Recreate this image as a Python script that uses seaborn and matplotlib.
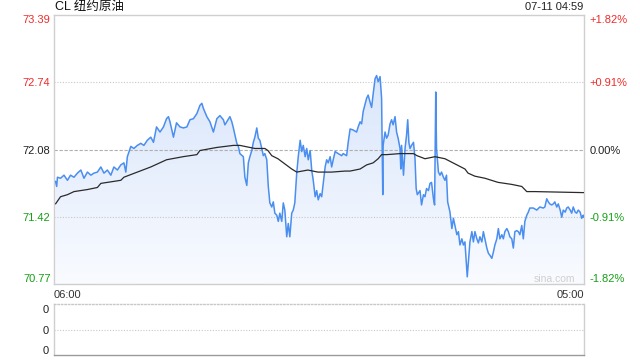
import numpy as np
import pandas as pd
import matplotlib
matplotlib.use("Agg")
import matplotlib.pyplot as plt
from matplotlib.colors import LinearSegmentedColormap
from matplotlib.patches import Polygon
import seaborn as sns

# ---------------- data ----------------
title = "CL 纽约原油"
stamp = "07-11 04:59"
prev_close = 72.08
y_ticks = [73.39, 72.74, 72.08, 71.42, 70.77]
y_tick_labels = ["73.39", "72.74", "72.08", "71.42", "70.77"]
pct_labels = ["+1.82%", "+0.91%", "0.00%", "-0.91%", "-1.82%"]
x_tick_minutes = [0, 1380]
x_tick_labels = ["06:00", "05:00"]
vol_labels = ["0", "0", "0"]

# minutes since 06:00
minutes = [4, 7, 9, 17, 26, 35, 43, 52, 61, 70, 78, 87, 96, 104, 113, 122, 130, 139, 148, 156, 165, 174, 182, 187, 191, 200, 208, 217, 226, 234, 243, 252,
           259, 267, 276, 285, 293, 298, 302, 311, 319, 328, 337, 346, 354, 363, 372, 380, 385, 389, 398, 406, 415, 424, 432, 441, 445, 450, 458, 463, 467, 476, 480, 484, 493, 497, 502, 506, 510,
           515, 519, 523, 528, 532, 536, 541, 545, 549, 554, 558, 562, 567, 571, 575, 580, 584, 588, 593, 597, 601, 606, 610, 614, 619, 623, 627, 632, 636, 641, 645, 649, 654, 658, 662, 667, 671, 675, 680, 684, 688, 693, 697, 701, 706, 710, 714, 719, 723, 727, 732, 740, 749,
           753, 762, 766, 771, 779, 788, 792, 797, 801, 805, 814, 818, 823, 827, 831, 836, 840, 844, 849, 853, 856, 857, 862, 866, 870, 875, 879, 883, 888, 892, 896, 901, 903, 905, 910, 914, 918, 921, 924, 927, 931, 936, 940, 943, 946, 953, 957, 962, 966, 970, 975, 979, 983, 988, 991, 994, 996, 1001, 1005,
           1009, 1014, 1018, 1022, 1025, 1031, 1036, 1040, 1044, 1049, 1053, 1057, 1062, 1066, 1070, 1075, 1076, 1079, 1083, 1088, 1092, 1096, 1101, 1105, 1109, 1114, 1118, 1122, 1127, 1131, 1135, 1140, 1144, 1148, 1153, 1157, 1161, 1166, 1170, 1174, 1179, 1183, 1187, 1192, 1196, 1200, 1205, 1209, 1213, 1218, 1222, 1226, 1231, 1235, 1239,
           1248, 1257, 1265, 1274, 1278, 1283, 1287, 1291, 1296, 1300, 1304, 1309, 1313, 1318, 1322, 1326, 1331, 1335, 1339, 1344, 1348, 1352, 1357, 1361, 1365, 1370, 1374, 1378, 1379]

prices = [71.77, 71.72, 71.81, 71.80, 71.83, 71.78, 71.83, 71.81, 71.85, 71.88, 71.80, 71.86, 71.83, 71.85, 71.86, 71.91, 71.85, 71.88, 71.83, 71.91, 71.88, 71.93, 71.95, 71.86, 72.01, 72.11, 72.09, 72.12, 72.14, 72.12, 72.17, 72.20,
          72.15, 72.30, 72.25, 72.30, 72.38, 72.40, 72.35, 72.20, 72.34, 72.30, 72.29, 72.30, 72.37, 72.38, 72.43, 72.51, 72.53, 72.48, 72.40, 72.35, 72.25, 72.38, 72.41, 72.37, 72.32, 72.35, 72.40, 72.35, 72.29, 72.14, 72.11, 72.04, 72.01, 71.81, 71.73, 71.95, 72.01,
          72.07, 72.15, 72.20, 72.29, 72.19, 72.17, 72.09, 72.02, 72.04, 71.98, 71.72, 71.56, 71.52, 71.57, 71.46, 71.44, 71.38, 71.46, 71.38, 71.56, 71.49, 71.23, 71.36, 71.23, 71.46, 71.49, 71.56, 71.85, 72.01, 72.17, 72.06, 72.12, 72.01, 72.09, 71.98, 72.07, 71.88, 71.78, 71.62, 71.68, 71.59, 71.65, 71.62, 71.75, 71.91, 71.98, 71.95, 72.01, 71.91, 71.98, 72.06, 72.04, 72.02,
          72.04, 72.02, 72.15, 72.28, 72.27, 72.25, 72.30, 72.35, 72.33, 72.45, 72.58, 72.61, 72.54, 72.49, 72.62, 72.77, 72.80, 72.74, 72.79, 72.58, 71.64, 72.12, 72.25, 72.19, 72.22, 72.33, 72.37, 72.32, 72.40, 72.25, 72.19, 72.09, 71.89, 72.12, 71.83, 72.09, 72.22, 72.37, 72.15, 72.09, 72.12, 72.15, 71.99, 71.70, 71.64, 71.68, 71.54, 71.64, 71.62, 71.70, 71.68, 71.75, 71.76, 71.60, 71.54, 72.64, 72.09, 71.86, 71.83,
          71.86, 71.81, 71.78, 71.83, 71.57, 71.47, 71.31, 71.41, 71.34, 71.25, 71.28, 71.15, 71.21, 71.15, 71.18, 70.89, 70.84, 70.99, 71.18, 71.28, 71.18, 71.28, 71.21, 71.17, 71.23, 71.18, 71.28, 71.21, 71.12, 71.07, 71.05, 71.02, 71.08, 71.15, 71.21, 71.31, 71.21, 71.25, 71.21, 71.28, 71.31, 71.28, 71.23, 71.21, 71.12, 71.28, 71.29, 71.28, 71.25, 71.34, 71.21, 71.38, 71.44, 71.47, 71.51,
          71.51, 71.49, 71.52, 71.51, 71.52, 71.60, 71.57, 71.55, 71.54, 71.55, 71.57, 71.52, 71.55, 71.49, 71.42, 71.49, 71.47, 71.51, 71.52, 71.49, 71.46, 71.52, 71.47, 71.46, 71.49, 71.47, 71.41, 71.44, 71.42]

avg_minutes = [4, 17, 35, 52, 87, 113, 122, 174, 182, 217, 252, 293, 336, 372, 380, 424, 467, 484, 523, 549, 557, 567, 583, 601, 619, 632, 661, 687, 723, 758,
               771, 797, 814, 831, 844, 853, 866, 901, 936, 945, 966, 992, 1018, 1044, 1070, 1078, 1096, 1122, 1156, 1192, 1218, 1231, 1252, 1379]
avg_prices = [71.55, 71.62, 71.64, 71.67, 71.69, 71.71, 71.75, 71.78, 71.81, 71.86, 71.91, 71.98, 72.01, 72.03, 72.07, 72.10, 72.12, 72.12, 72.09, 72.09, 72.07, 72.02, 71.99, 71.94, 71.89, 71.86, 71.88, 71.86, 71.86, 71.87,
              71.87, 71.89, 71.93, 71.95, 71.99, 72.03, 72.03, 72.04, 72.04, 72.02, 71.99, 72.01, 71.99, 71.94, 71.89, 71.85, 71.82, 71.80, 71.76, 71.74, 71.72, 71.67, 71.67, 71.66]

# ---------------- style ----------------
sns.set_theme(style="white")
plt.rcParams["font.family"] = ["Liberation Sans", "Noto Sans CJK SC", "DejaVu Sans"]

RED = "#f02a2a"
GREEN = "#15a015"
BLACK = "#222222"
LINE = "#4a8ef0"
GRID = "#c8c8c8"
BORDER = "#cfcfcf"

W, H = 640, 360
fig = plt.figure(figsize=(6.4, 3.6), dpi=100)
fig.patch.set_facecolor("white")

ax = fig.add_axes([54 / W, 1 - 284 / H, 530 / W, 269 / H])
ax.set_facecolor("white")
ymin, ymax = y_ticks[-1], y_ticks[0]
xmin, xmax = x_tick_minutes
ax.set_xlim(xmin, xmax)
ax.set_ylim(ymin, ymax)

df = pd.DataFrame({"t": minutes, "p": prices})
dfa = pd.DataFrame({"t": avg_minutes, "p": avg_prices})

# gradient fill under price line
cmap = LinearSegmentedColormap.from_list("g", ["#f9fbff", "#d0e0fa"])
grad = np.linspace(1, 0, 256).reshape(-1, 1)
im = ax.imshow(grad, extent=[xmin, xmax, ymin, ymax], aspect="auto", cmap=cmap,
               vmin=0, vmax=1, origin="upper", zorder=1, interpolation="bilinear")
verts = [(minutes[0], ymin)] + list(zip(minutes, prices)) + [(minutes[-1], ymin)]
poly = Polygon(verts, closed=True, facecolor="none", edgecolor="none")
ax.add_patch(poly)
im.set_clip_path(poly)

# grid lines
ax.axhline(y_ticks[1], color=GRID, lw=0.8, ls=(0, (1, 1.5)), zorder=2)
ax.axhline(y_ticks[3], color=GRID, lw=0.8, ls=(0, (1, 1.5)), zorder=2)
ax.axhline(prev_close, color="#b0b0b0", lw=0.8, ls=(0, (3, 1.5)), zorder=2)

sns.lineplot(data=df, x="t", y="p", ax=ax, color=LINE, linewidth=1.1, zorder=4)
sns.lineplot(data=dfa, x="t", y="p", ax=ax, color="#2a2a2a", linewidth=0.9, zorder=5)
ax.set_xlabel("")
ax.set_ylabel("")

for s in ["left", "right", "top", "bottom"]:
    ax.spines[s].set_visible(True)
    ax.spines[s].set_color(BORDER)
    ax.spines[s].set_linewidth(1.0)

# left ticks
ax.set_yticks(y_ticks)
ax.set_yticklabels(y_tick_labels)
ax.tick_params(axis="y", length=0, pad=2.5, labelsize=8)
left_colors = [RED, RED, BLACK, GREEN, GREEN]
for i, lab in enumerate(ax.get_yticklabels()):
    lab.set_color(left_colors[i])
    if i == 0:
        lab.set_va("top")
    elif i == len(y_ticks) - 1:
        lab.set_va("bottom")

# right ticks
ax2 = ax.twinx()
ax2.set_ylim(ymin, ymax)
ax2.set_yticks(y_ticks)
ax2.set_yticklabels(pct_labels)
ax2.tick_params(axis="y", length=0, pad=4, labelsize=8)
for s in ax2.spines.values():
    s.set_visible(False)
for i, lab in enumerate(ax2.get_yticklabels()):
    lab.set_color(left_colors[i])
    if i == 0:
        lab.set_va("top")
    elif i == len(y_ticks) - 1:
        lab.set_va("bottom")
ax2.grid(False)

# x ticks
ax.set_xticks(x_tick_minutes)
ax.set_xticklabels(x_tick_labels)
ax.tick_params(axis="x", length=0, pad=4, labelsize=8, labelcolor="#333333")
xl = ax.get_xticklabels()
xl[0].set_ha("left")
xl[1].set_ha("right")
ax.grid(False)

ax.text(0.983, 0.019, "sina.com", transform=ax.transAxes, ha="right", va="center",
        color="#cfcfcf", fontsize=7.5, zorder=6)

fig.text(55 / W, 1 - 7 / H, title, ha="left", va="center", fontsize=9, color="#111111")
fig.text(583 / W, 1 - 7 / H, stamp, ha="right", va="center", fontsize=8, color="#222222")

# volume panel
ax3 = fig.add_axes([54 / W, 1 - 355 / H, 530 / W, 51 / H])
ax3.set_facecolor("white")
ax3.set_xlim(xmin, xmax)
ax3.set_ylim(-0.13, 1.13)
ax3.set_xticks([])
ax3.set_yticks([1.0, 0.5, 0.0])
ax3.set_yticklabels(vol_labels)
ax3.tick_params(axis="y", length=0, pad=4, labelsize=8, labelcolor="#222222")
ax3.axhline(0.5, color=GRID, lw=0.8, ls=(0, (1, 1.5)))
ax3.grid(False)
ax3.spines["left"].set_color(BORDER)
ax3.spines["right"].set_color(BORDER)
ax3.spines["top"].set_color(GRID)
ax3.spines["top"].set_linestyle((0, (1, 1.5)))
ax3.spines["bottom"].set_color("#9a9a9a")
for s in ax3.spines.values():
    s.set_linewidth(1.0)

fig.savefig("out.png", dpi=100, facecolor="white")
